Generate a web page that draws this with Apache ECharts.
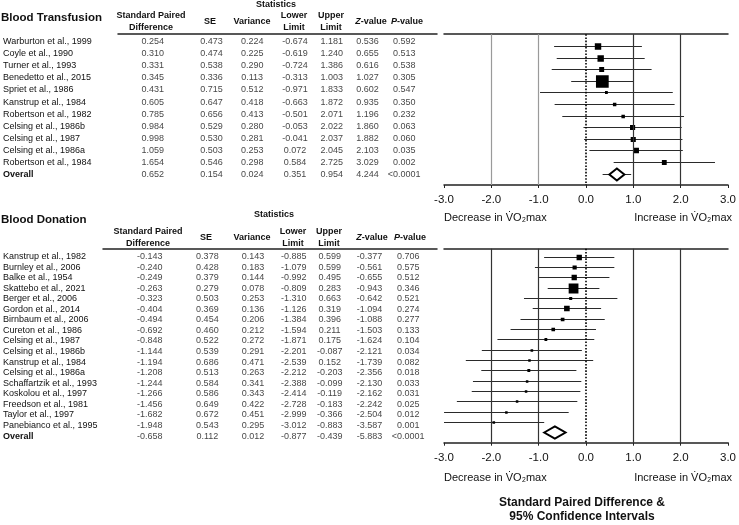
<!DOCTYPE html>
<html>
<head>
<meta charset="utf-8">
<title>Forest plot</title>
<script src="https://cdn.jsdelivr.net/npm/echarts@6/dist/echarts.min.js"></script>
<style>
html,body{margin:0;padding:0;background:#ffffff;}
#chart{width:739px;height:525px;}
</style>
</head>
<body>
<div id="chart"></div>
<script>
// ---------------- DATA ----------------
const transStudies = ['Warburton et al., 1999','Coyle et al., 1990','Turner et al., 1993','Benedetto et al., 2015','Spriet et al., 1986','Kanstrup et al., 1984','Robertson et al., 1982','Celsing et al., 1986b','Celsing et al., 1987','Celsing et al., 1986a','Robertson et al., 1984','Overall'];
const transSPD   = [0.254, 0.310, 0.331, 0.345, 0.431, 0.605, 0.785, 0.984, 0.998, 1.059, 1.654, 0.652];
const transSE    = [0.473, 0.474, 0.538, 0.336, 0.715, 0.647, 0.656, 0.529, 0.530, 0.503, 0.546, 0.154];
const transVar   = [0.224, 0.225, 0.290, 0.113, 0.512, 0.418, 0.413, 0.280, 0.281, 0.253, 0.298, 0.024];
const transLower = [-0.674, -0.619, -0.724, -0.313, -0.971, -0.663, -0.501, -0.053, -0.041, 0.072, 0.584, 0.351];
const transUpper = [1.181, 1.240, 1.386, 1.003, 1.833, 1.872, 2.071, 2.022, 2.037, 2.045, 2.725, 0.954];
const transZ     = [0.536, 0.655, 0.616, 1.027, 0.602, 0.935, 1.196, 1.860, 1.882, 2.103, 3.029, 4.244];
const transP     = ['0.592','0.513','0.538','0.305','0.547','0.350','0.232','0.063','0.060','0.035','0.002','<0.0001'];

const donStudies = ['Kanstrup et al., 1982','Burnley et al., 2006','Balke et al., 1954','Skattebo et al., 2021','Berger et al., 2006','Gordon et al., 2014','Birnbaum et al., 2006','Cureton et al., 1986','Celsing et al., 1987','Celsing et al., 1986b','Kanstrup et al., 1984','Celsing et al., 1986a','Schaffartzik et al., 1993','Koskolou et al., 1997','Freedson et al., 1981','Taylor et al., 1997','Panebianco et al., 1995','Overall'];
const donSPD   = [-0.143, -0.240, -0.249, -0.263, -0.323, -0.404, -0.494, -0.692, -0.848, -1.144, -1.194, -1.208, -1.244, -1.266, -1.456, -1.682, -1.948, -0.658];
const donSE    = [0.378, 0.428, 0.379, 0.279, 0.503, 0.369, 0.454, 0.460, 0.522, 0.539, 0.686, 0.513, 0.584, 0.586, 0.649, 0.672, 0.543, 0.112];
const donVar   = [0.143, 0.183, 0.144, 0.078, 0.253, 0.136, 0.206, 0.212, 0.272, 0.291, 0.471, 0.263, 0.341, 0.343, 0.422, 0.451, 0.295, 0.012];
const donLower = [-0.885, -1.079, -0.992, -0.809, -1.310, -1.126, -1.384, -1.594, -1.871, -2.201, -2.539, -2.212, -2.388, -2.414, -2.728, -2.999, -3.012, -0.877];
const donUpper = [0.599, 0.599, 0.495, 0.283, 0.663, 0.319, 0.396, 0.211, 0.175, -0.087, 0.152, -0.203, -0.099, -0.119, -0.183, -0.366, -0.883, -0.439];
const donZ     = [-0.377, -0.561, -0.655, -0.943, -0.642, -1.094, -1.088, -1.503, -1.624, -2.121, -1.739, -2.356, -2.130, -2.162, -2.242, -2.504, -3.587, -5.883];
const donP     = ['0.706','0.575','0.512','0.346','0.521','0.274','0.277','0.133','0.104','0.034','0.082','0.018','0.033','0.031','0.025','0.012','0.001','<0.0001'];

const panelTitles = ['Blood Transfusion', 'Blood Donation'];
const colHeaders = [['Standard Paired','Difference'], ['SE'], ['Variance'], ['Lower','Limit'], ['Upper','Limit'], ['{i|Z}-value'], ['{i|P}-value']];
const groupHeader = 'Statistics';
const refLines = [-2, -1, 1, 2];
const xTickMin = -3, xTickMax = 3, xTickStep = 1;
const decreaseLabel = 'Decrease in V\u0307O\u2082max';
const increaseLabel = 'Increase in V\u0307O\u2082max';
const bottomTitle = ['Standard Paired Difference &', '95% Confidence Intervals'];

// ---------------- LAYOUT / STYLE ----------------
const FONT = '"Liberation Sans", Arial, Helvetica, sans-serif';
const INK = '#111';
const PLOT_L = 444, PLOT_R = 732;
const TABLE_R = 437;
const PANELS = [
  { tableLeft:116, rowTop:41.7, rowStep:12.07, rule:34.2,
    cols:[151,210,251,294,331,367,404], headX:[151,210,252,294,331,371,407],
    statX:276, statY:4.5, head1:15.7, head2:27.7, headMid:21.7, titleY:18,
    plotTop:34.2, plotBottom:185, firstRow:46, plotStep:11.61,
    refColors:['#9a9a9a','#9a9a9a','#333','#333'], sqK:61, dmK:2.33,
    labelMargin:9, subY:218 },
  { tableLeft:101, rowTop:256.5, rowStep:10.56, rule:248.7,
    cols:[148,206,252,293,329,369,408], headX:[148,206,252,293,329,372,410],
    statX:274, statY:215, head1:231.7, head2:243.3, headMid:237.5, titleY:220,
    plotTop:248.7, plotBottom:442.7, firstRow:256.7, plotStep:10.33,
    refColors:['#333','#333','#333','#333'], sqK:61, dmK:2.33,
    labelMargin:9, subY:478 }
];

const grids = [], xAxes = [], yAxes = [], series = [], graphics = [];

function T(text, x, y, o) {
  o = o || {};
  const al = o.align || 'center';
  return { type:'text', silent:true, x:x, y:y, z:100,
    style:{ text:text, fill:INK, fontFamily:FONT, fontSize:o.size || 9,
      fontWeight:o.weight || 'normal', align:al, textAlign:al,
      verticalAlign:'middle', textVerticalAlign:'middle', rich:o.rich } };
}

function forestItem(sumW, sqK, dmK) {
  return function (params, api) {
    const est = api.value(0), lo = api.value(1), hi = api.value(2), row = api.value(3), v = api.value(4), ov = api.value(5);
    const c = api.coord([est, row]);
    const a = api.coord([lo, row]);
    const b = api.coord([hi, row]);
    const y = Math.round(c[1]) + 0.5;
    const kids = [{ type:'line', shape:{ x1:a[0], y1:y, x2:b[0], y2:y }, style:{ stroke:'#2a2a2a', lineWidth:1 } }];
    if (ov) {
      const hw = dmK * Math.sqrt(1 / v) / 2, hh = 6;
      kids.push({ type:'polygon', shape:{ points:[[c[0]-hw, y], [c[0], y-hh], [c[0]+hw, y], [c[0], y+hh]] },
        style:{ fill:'#fff', stroke:'#000', lineWidth:2 } });
    } else {
      const s = Math.max(2.5, sqK * (1 / v) / sumW);
      kids.push({ type:'rect', shape:{ x:c[0]-s/2, y:y-s/2, width:s, height:s }, style:{ fill:'#000' } });
    }
    return { type:'group', children:kids };
  };
}

function buildPanel(idx, studies, spd, se, vr, lo, hi, z, pv) {
  const p = PANELS[idx];
  const n = studies.length;
  const gTop = p.rowTop - p.rowStep / 2;
  const tw = TABLE_R - p.tableLeft;
  const gT = grids.length;
  grids.push({ left:p.tableLeft, top:gTop, width:tw, height:n * p.rowStep });
  grids.push({ left:PLOT_L, top:p.plotTop, width:PLOT_R - PLOT_L, height:p.plotBottom - p.plotTop });

  const xT = xAxes.length;
  xAxes.push({ gridIndex:gT, type:'value', min:0, max:tw, position:'top', offset:gTop - p.rule,
    axisLine:{ show:true, lineStyle:{ color:'#222', width:1.5 } }, axisTick:{ show:false }, axisLabel:{ show:false }, splitLine:{ show:false } });
  xAxes.push({ gridIndex:gT + 1, type:'value', min:xTickMin, max:xTickMax, interval:xTickStep, position:'bottom',
    axisLine:{ show:true, onZero:false, lineStyle:{ color:'#222', width:1.5 } },
    axisTick:{ show:true, length:3, lineStyle:{ color:'#222', width:1 } },
    axisLabel:{ fontFamily:FONT, fontSize:11.5, color:INK, margin:p.labelMargin, formatter:function (v) { return v.toFixed(1); } },
    splitLine:{ show:false } });
  xAxes.push({ gridIndex:gT + 1, type:'value', min:xTickMin, max:xTickMax, position:'top',
    axisLine:{ show:true, onZero:false, lineStyle:{ color:'#222', width:1.5 } }, axisTick:{ show:false }, axisLabel:{ show:false }, splitLine:{ show:false } });

  const yT = yAxes.length;
  yAxes.push({ gridIndex:gT, type:'category', inverse:true, data:studies,
    axisLine:{ show:false }, axisTick:{ show:false }, splitLine:{ show:false },
    axisLabel:{ interval:0, align:'left', margin:p.tableLeft - 1, fontFamily:FONT, fontSize:9, color:INK,
      formatter:function (v) { return v === 'Overall' ? '{b|Overall}' : v; },
      rich:{ b:{ fontWeight:'bold', fontFamily:FONT, fontSize:9, color:INK } } } });
  const lastRow = p.firstRow + (n - 1) * p.plotStep;
  yAxes.push({ gridIndex:gT + 1, type:'value', inverse:true, show:false,
    min:-(p.firstRow - p.plotTop) / p.plotStep, max:(n - 1) + (p.plotBottom - lastRow) / p.plotStep });

  // table cells
  const colsData = [spd, se, vr, lo, hi, z, pv];
  const cells = [];
  for (let i = 0; i < n; i++) {
    for (let j = 0; j < colsData.length; j++) {
      const v = colsData[j][i];
      cells.push({ name:(typeof v === 'number') ? v.toFixed(3) : v, value:[p.cols[j] - p.tableLeft, i] });
    }
  }
  series.push({ type:'scatter', xAxisIndex:xT, yAxisIndex:yT, data:cells, symbolSize:1, clip:false, silent:true,
    itemStyle:{ color:'rgba(0,0,0,0)' },
    label:{ show:true, position:'inside', formatter:'{b}', fontFamily:FONT, fontSize:9, color:INK } });

  // reference lines
  const ml = refLines.map(function (v, i) { return { xAxis:v, lineStyle:{ color:p.refColors[i], width:1.2, type:'solid' } }; });
  ml.push({ xAxis:0, lineStyle:{ color:'#000', width:1.6, type:[1.6, 1.6] } });
  series.push({ type:'line', xAxisIndex:xT + 1, yAxisIndex:yT + 1, data:[], silent:true, z:1,
    markLine:{ silent:true, symbol:['none','none'], label:{ show:false }, animation:false, data:ml } });

  // forest marks
  let sumW = 0;
  const fd = [];
  for (let i = 0; i < n; i++) {
    const ov = studies[i] === 'Overall' ? 1 : 0;
    if (!ov) sumW += 1 / vr[i];
    fd.push([spd[i], lo[i], hi[i], i, vr[i], ov]);
  }
  series.push({ type:'custom', xAxisIndex:xT + 1, yAxisIndex:yT + 1, z:3, clip:true, silent:true,
    renderItem:forestItem(sumW, p.sqK, p.dmK), data:fd });

  // texts
  graphics.push(T(panelTitles[idx], 1, p.titleY, { size:11.5, weight:'bold', align:'left' }));
  graphics.push(T(groupHeader, p.statX, p.statY, { weight:'bold' }));
  const rich = { i:{ fontStyle:'italic', fontWeight:'bold', fontFamily:FONT, fontSize:9 } };
  colHeaders.forEach(function (h, j) {
    if (h.length === 2) {
      graphics.push(T(h[0], p.headX[j], p.head1, { weight:'bold', rich:rich }));
      graphics.push(T(h[1], p.headX[j], p.head2, { weight:'bold', rich:rich }));
    } else {
      graphics.push(T(h[0], p.headX[j], p.headMid, { weight:'bold', rich:rich }));
    }
  });
  graphics.push(T(decreaseLabel, PLOT_L, p.subY, { size:11, align:'left' }));
  graphics.push(T(increaseLabel, PLOT_R, p.subY, { size:11, align:'right' }));
}

buildPanel(0, transStudies, transSPD, transSE, transVar, transLower, transUpper, transZ, transP);
buildPanel(1, donStudies, donSPD, donSE, donVar, donLower, donUpper, donZ, donP);

graphics.push(T(bottomTitle[0], 582, 503, { size:12, weight:'bold' }));
graphics.push(T(bottomTitle[1], 582, 517, { size:12, weight:'bold' }));

const chart = echarts.init(document.getElementById('chart'), null, { renderer:'canvas' });
chart.setOption({
  animation:false,
  backgroundColor:'#ffffff',
  textStyle:{ fontFamily:FONT },
  grid:grids, xAxis:xAxes, yAxis:yAxes, series:series,
  graphic:{ elements:graphics }
});
</script>
</body>
</html>
